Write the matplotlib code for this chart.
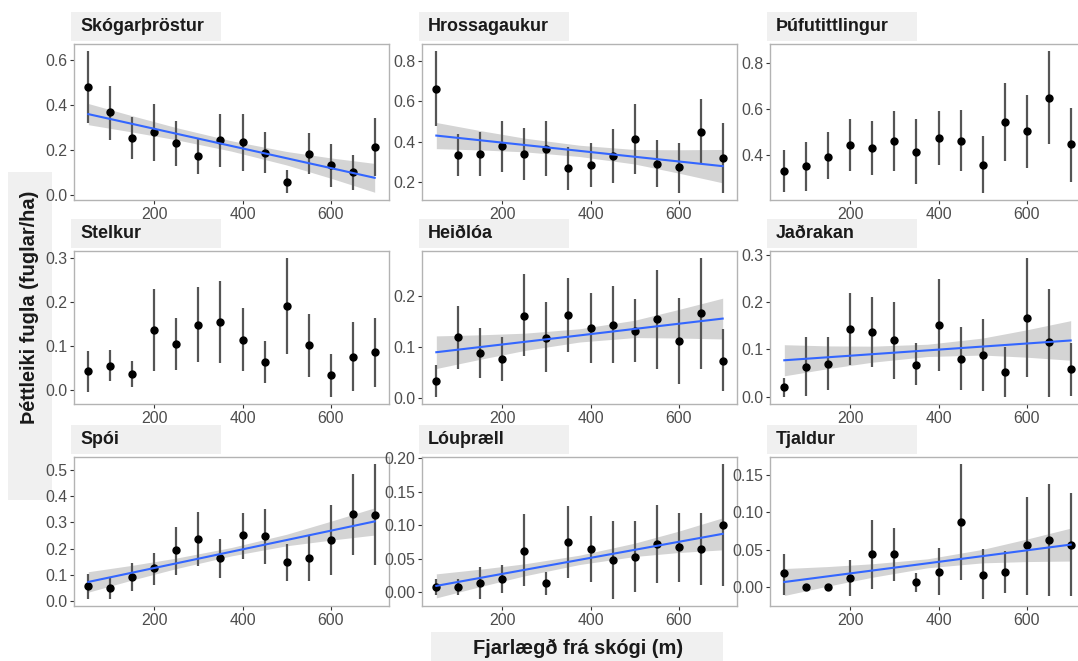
import numpy as np
import matplotlib
matplotlib.use("Agg")
import matplotlib.pyplot as plt
from matplotlib.patches import Rectangle
from matplotlib.ticker import MultipleLocator, FormatStrFormatter

plt.rcParams['font.family'] = ['Liberation Sans', 'DejaVu Sans']

# ---------------- data ----------------
distance = [50, 100, 150, 200, 250, 300, 350, 400, 450, 500, 550, 600, 650, 700]
species = ["Skógarþröstur", "Hrossagaukur", "Þúfutittlingur",
           "Stelkur", "Heiðlóa", "Jaðrakan",
           "Spói", "Lóuþræll", "Tjaldur"]

skogarthrostur_mean = [0.479, 0.368, 0.256, 0.280, 0.231, 0.174, 0.244, 0.237, 0.189, 0.060, 0.183, 0.134, 0.101, 0.214]
skogarthrostur_lo   = [0.320, 0.246, 0.161, 0.153, 0.131, 0.094, 0.124, 0.109, 0.097, 0.010, 0.092, 0.037, 0.022, 0.086]
skogarthrostur_hi   = [0.640, 0.487, 0.347, 0.405, 0.328, 0.250, 0.362, 0.362, 0.281, 0.112, 0.275, 0.228, 0.177, 0.342]

hrossagaukur_mean = [0.663, 0.333, 0.338, 0.378, 0.338, 0.365, 0.268, 0.282, 0.328, 0.413, 0.290, 0.272, 0.447, 0.318]
hrossagaukur_lo   = [0.478, 0.230, 0.230, 0.250, 0.208, 0.230, 0.158, 0.175, 0.195, 0.237, 0.175, 0.145, 0.292, 0.145]
hrossagaukur_hi   = [0.850, 0.437, 0.450, 0.503, 0.467, 0.500, 0.375, 0.392, 0.463, 0.588, 0.408, 0.395, 0.612, 0.492]

thufutittlingur_mean = [0.329, 0.349, 0.391, 0.442, 0.429, 0.461, 0.413, 0.473, 0.461, 0.356, 0.543, 0.502, 0.647, 0.444]
thufutittlingur_lo   = [0.237, 0.240, 0.292, 0.330, 0.313, 0.330, 0.273, 0.356, 0.327, 0.233, 0.371, 0.342, 0.444, 0.281]
thufutittlingur_hi   = [0.422, 0.455, 0.499, 0.553, 0.545, 0.589, 0.553, 0.589, 0.596, 0.480, 0.713, 0.659, 0.851, 0.604]

stelkur_mean = [0.043, 0.055, 0.036, 0.136, 0.105, 0.148, 0.155, 0.114, 0.063, 0.190, 0.101, 0.033, 0.075, 0.085]
stelkur_lo   = [-0.004, 0.020, 0.007, 0.042, 0.046, 0.063, 0.062, 0.042, 0.015, 0.082, 0.029, -0.016, -0.002, 0.007]
stelkur_hi   = [0.088, 0.090, 0.065, 0.229, 0.164, 0.233, 0.246, 0.185, 0.110, 0.299, 0.173, 0.082, 0.153, 0.164]

heidloa_mean = [0.032, 0.118, 0.088, 0.075, 0.161, 0.117, 0.162, 0.136, 0.143, 0.130, 0.154, 0.111, 0.165, 0.072]
heidloa_lo   = [0.001, 0.057, 0.038, 0.032, 0.081, 0.050, 0.090, 0.067, 0.067, 0.069, 0.057, 0.027, 0.056, 0.012]
heidloa_hi   = [0.064, 0.179, 0.137, 0.119, 0.242, 0.188, 0.235, 0.205, 0.219, 0.193, 0.250, 0.196, 0.274, 0.134]

jadrakan_mean = [0.020, 0.063, 0.069, 0.144, 0.138, 0.119, 0.068, 0.151, 0.080, 0.088, 0.052, 0.167, 0.115, 0.058]
jadrakan_lo   = [0.000, 0.001, 0.014, 0.068, 0.063, 0.038, 0.024, 0.054, 0.014, 0.012, -0.001, 0.041, 0.000, 0.002]
jadrakan_hi   = [0.040, 0.126, 0.126, 0.220, 0.211, 0.200, 0.114, 0.249, 0.147, 0.164, 0.106, 0.294, 0.228, 0.113]

spoi_mean = [0.056, 0.049, 0.093, 0.125, 0.193, 0.237, 0.163, 0.251, 0.247, 0.149, 0.163, 0.233, 0.331, 0.329]
spoi_lo   = [0.007, 0.009, 0.039, 0.062, 0.100, 0.133, 0.088, 0.161, 0.143, 0.076, 0.076, 0.100, 0.174, 0.136]
spoi_hi   = [0.103, 0.087, 0.145, 0.185, 0.284, 0.339, 0.235, 0.337, 0.351, 0.219, 0.249, 0.368, 0.485, 0.524]

louthraell_mean = [0.007, 0.007, 0.013, 0.020, 0.062, 0.013, 0.075, 0.065, 0.048, 0.052, 0.072, 0.067, 0.064, 0.100]
louthraell_lo   = [-0.005, -0.005, -0.011, -0.001, 0.009, -0.004, 0.021, 0.015, -0.010, 0.000, 0.013, 0.015, 0.010, 0.009]
louthraell_hi   = [0.019, 0.019, 0.037, 0.040, 0.116, 0.030, 0.128, 0.114, 0.106, 0.106, 0.130, 0.118, 0.118, 0.192]

tjaldur_mean = [0.019, 0.000, 0.000, 0.013, 0.044, 0.044, 0.007, 0.021, 0.087, 0.017, 0.021, 0.056, 0.063, 0.057]
tjaldur_lo   = [-0.010, 0.000, 0.000, -0.012, -0.003, 0.009, -0.006, -0.010, 0.010, -0.016, -0.008, -0.010, -0.012, -0.012]
tjaldur_hi   = [0.045, 0.000, 0.000, 0.036, 0.090, 0.079, 0.019, 0.053, 0.165, 0.051, 0.048, 0.121, 0.138, 0.126]

# fitted trend lines (value at x=50 and x=700) and confidence-band half-widths
fit_x = [50, 700]
band_x = [50, 150, 250, 375, 500, 600, 700]
skogarthrostur_fit = [0.360, 0.077]
skogarthrostur_band = [0.047, 0.036, 0.027, 0.023, 0.030, 0.045, 0.064]
hrossagaukur_fit = [0.430, 0.278]
hrossagaukur_band = [0.065, 0.048, 0.034, 0.028, 0.036, 0.058, 0.083]
heidloa_fit = [0.089, 0.155]
heidloa_band = [0.032, 0.024, 0.017, 0.013, 0.017, 0.028, 0.040]
jadrakan_fit = [0.077, 0.119]
jadrakan_band = [0.033, 0.024, 0.017, 0.013, 0.018, 0.029, 0.042]
spoi_fit = [0.073, 0.304]
spoi_band = [0.039, 0.028, 0.020, 0.016, 0.022, 0.036, 0.052]
louthraell_fit = [0.009, 0.087]
louthraell_band = [0.018, 0.013, 0.009, 0.007, 0.010, 0.016, 0.024]
tjaldur_fit = [0.007, 0.057]
tjaldur_band = [0.018, 0.013, 0.009, 0.006, 0.009, 0.015, 0.022]

x_ticks = [200, 400, 600]
y_steps = [0.2, 0.2, 0.2, 0.1, 0.1, 0.1, 0.1, 0.05, 0.05]
y_formats = ['%.1f'] * 7 + ['%.2f', '%.2f']
x_label = "Fjarlægð frá skógi (m)"
y_label = "Þéttleiki fugla (fuglar/ha)"

panels = [
    (skogarthrostur_mean, skogarthrostur_lo, skogarthrostur_hi, skogarthrostur_fit, skogarthrostur_band),
    (hrossagaukur_mean, hrossagaukur_lo, hrossagaukur_hi, hrossagaukur_fit, hrossagaukur_band),
    (thufutittlingur_mean, thufutittlingur_lo, thufutittlingur_hi, None, None),
    (stelkur_mean, stelkur_lo, stelkur_hi, None, None),
    (heidloa_mean, heidloa_lo, heidloa_hi, heidloa_fit, heidloa_band),
    (jadrakan_mean, jadrakan_lo, jadrakan_hi, jadrakan_fit, jadrakan_band),
    (spoi_mean, spoi_lo, spoi_hi, spoi_fit, spoi_band),
    (louthraell_mean, louthraell_lo, louthraell_hi, louthraell_fit, louthraell_band),
    (tjaldur_mean, tjaldur_lo, tjaldur_hi, tjaldur_fit, tjaldur_band),
]

# ---------------- layout (pixels) ----------------
W, H = 1078, 661
fig = plt.figure(figsize=(W / 100, H / 100), dpi=100)
fig.patch.set_facecolor('white')

col_left = [74, 422, 770]
ax_w = 315
row_top = [44, 251, 457]
row_bot = [200, 404, 606]

def fx(px):
    return px / W

def fy(py):
    return 1 - py / H

strip_color = '#F0F0F0'
tick_color = '#4D4D4D'

for i, (mean, lo, hi, fit, band) in enumerate(panels):
    r, c = divmod(i, 3)
    left, top, bot = col_left[c], row_top[r], row_bot[r]
    ax = fig.add_axes([fx(left), fy(bot), fx(ax_w), (bot - top) / H])
    ax.set_zorder(1)
    ax.patch.set_alpha(0.0)
    x = np.array(distance, dtype=float)
    mean = np.array(mean); lo = np.array(lo); hi = np.array(hi)

    all_lo = [lo.min()]
    all_hi = [hi.max()]
    if fit is not None:
        bx = np.linspace(min(band_x), max(band_x), 200)
        line = np.interp(bx, fit_x, fit)
        hw = np.interp(bx, band_x, band)
        ax.fill_between(bx, line - hw, line + hw, color='#D4D4D4', lw=0, zorder=1)
        all_lo.append((line - hw).min())
        all_hi.append((line + hw).max())

    ax.vlines(x, lo, hi, color='#555555', lw=1.6, zorder=2)
    ax.plot(x, mean, 'o', color='black', ms=5, zorder=3)
    if fit is not None:
        ax.plot(bx, line, color='#3366FF', lw=1.5, zorder=4)

    ymin, ymax = min(all_lo), max(all_hi)
    pad = (ymax - ymin) * 0.05
    ax.set_ylim(ymin - pad, ymax + pad)
    ax.set_xlim(17.5, 732.5)
    ax.set_xticks(x_ticks)
    ax.yaxis.set_major_locator(MultipleLocator(y_steps[i]))
    ax.yaxis.set_major_formatter(FormatStrFormatter(y_formats[i]))
    ax.tick_params(axis='both', length=3, width=0.8, color='#333333',
                   labelcolor=tick_color, labelsize=11.4, pad=2)
    for s in ax.spines.values():
        s.set_color('#B3B3B3')
        s.set_linewidth(1.0)

    # strip label
    fig.patches.append(Rectangle((fx(left - 3), fy(top - 3)), fx(150), 29 / H,
                                 transform=fig.transFigure, facecolor=strip_color,
                                 edgecolor='none', zorder=-1))
    fig.text(fx(left + 6), fy(top - 3 - 14.5), species[i], fontsize=12.9,
             fontweight='bold', color='#1A1A1A', va='center', ha='left', zorder=2)

# axis titles with grey boxes
fig.patches.append(Rectangle((fx(431), fy(661)), fx(292), 29 / H,
                             transform=fig.transFigure, facecolor=strip_color,
                             edgecolor='none', zorder=-1))
fig.text(fx(578), fy(648), x_label, fontsize=14.4, fontweight='bold',
         color='#1A1A1A', ha='center', va='center', zorder=2)

fig.patches.append(Rectangle((fx(8), fy(500)), fx(44), 328 / H,
                             transform=fig.transFigure, facecolor=strip_color,
                             edgecolor='none', zorder=-1))
fig.text(fx(30), fy(307), y_label, fontsize=14.4, fontweight='bold',
         color='#1A1A1A', ha='center', va='center', rotation=90, zorder=2)

fig.savefig("out.png", dpi=100, facecolor='white')
